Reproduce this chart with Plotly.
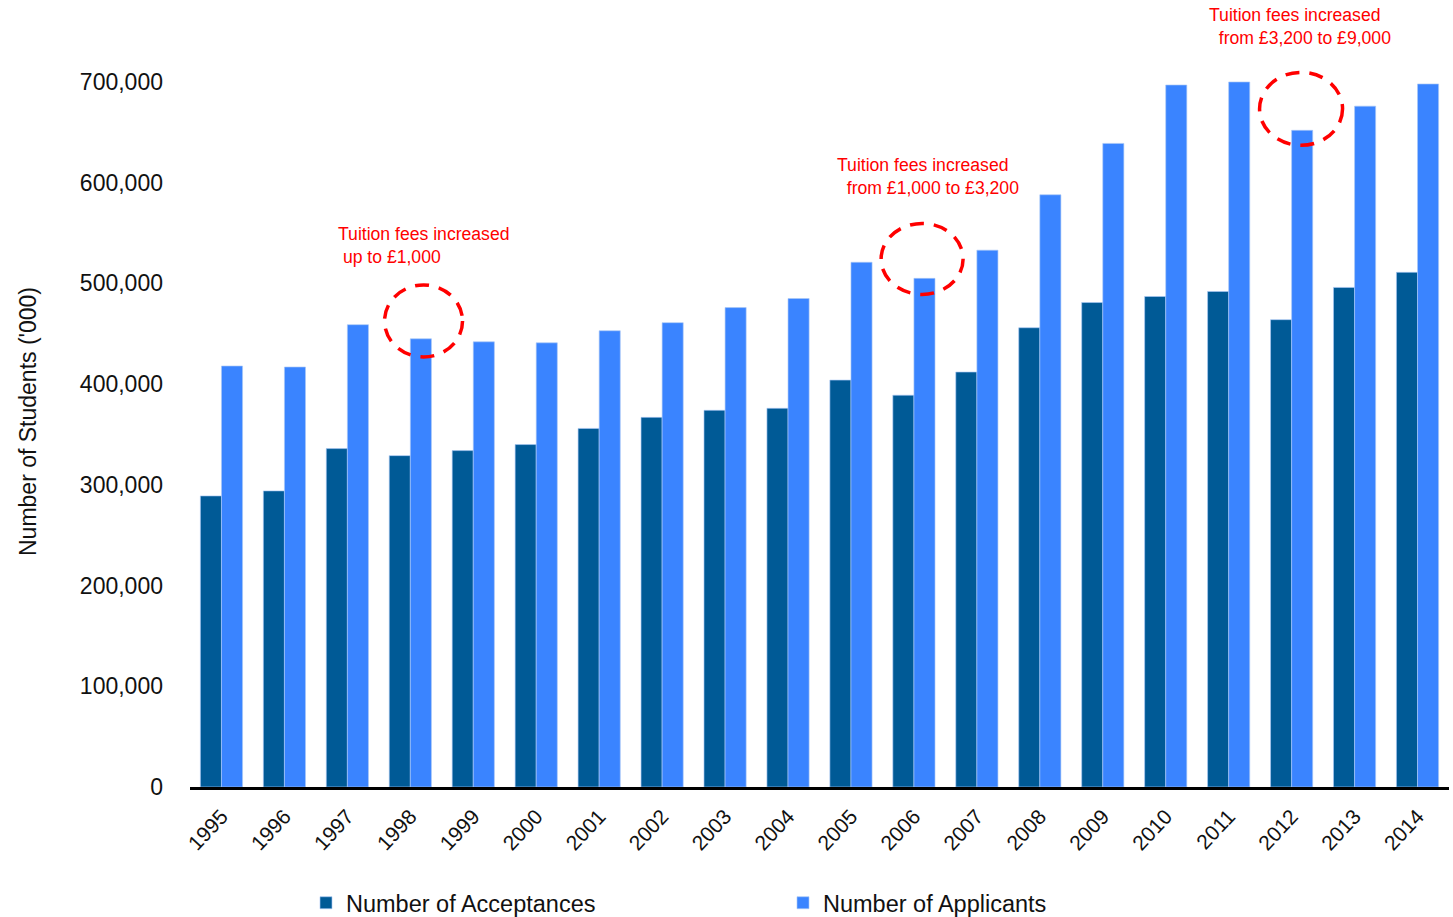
import plotly.graph_objects as go

years = [str(y) for y in range(1995, 2015)]
acceptances = [289000, 294000, 336000, 329000, 334000, 340000, 356000, 367000, 374000, 376000,
               404000, 389000, 412000, 456000, 481000, 487000, 492000, 464000, 496000, 511000]
applicants = [418000, 417000, 459000, 445000, 442000, 441000, 453000, 461000, 476000, 485000,
              521000, 505000, 533000, 588000, 639000, 697000, 700000, 652000, 676000, 698000]

notes = [
    ("1998", "Tuition fees increased<br>\u00a0up to £1,000"),
    ("2006", "Tuition fees increased<br>\u00a0\u00a0from £1,000 to £3,200"),
    ("2012", "Tuition fees increased<br>\u00a0\u00a0from £3,200 to £9,000"),
]
y_title = "Number of Students ('000)"

DARK = "#005A96"
LIGHT = "#3A84FF"
RED = "#FF0000"
ARIAL = "Liberation Sans, Arial, sans-serif"

fig = go.Figure()
fig.add_bar(x=years, y=acceptances, name="Number of Acceptances", marker_color=DARK,
            marker_line=dict(color="rgba(170,200,245,0.8)", width=0.8))
fig.add_bar(x=years, y=applicants, name="Number of Applicants", marker_color=LIGHT,
            marker_line=dict(color="rgba(170,200,245,0.8)", width=0.8))

# annotation placement (xshift px, y value)
note_pos = [(-74, 538000), (-79, 606500), (-85, 755000)]
for (cat, txt), (xs, yv) in zip(notes, note_pos):
    fig.add_annotation(x=years.index(cat), y=yv, xref="x", yref="y", text=txt, showarrow=False,
                       xanchor="left", yanchor="middle", align="left", xshift=xs,
                       font=dict(family=ARIAL, size=17.6, color=RED))

# y-axis title
fig.add_annotation(x=-0.1287, y=0.4662, xref="paper", yref="paper", text=y_title,
                   showarrow=False, textangle=-90, xanchor="center", yanchor="middle",
                   font=dict(family=ARIAL, size=23, color="#111111"))

# dashed circles: (category, offset in categories, y value, rx px, ry px)
circles = [("1998", 0.21, 462700, 39, 36), ("2006", 0.13, 524300, 41, 35.5), ("2012", 0.15, 673300, 41.5, 36.5)]
n = len(years)
for cat, off, cy, rx, ry in circles:
    px = (years.index(cat) + 0.5 + off) / n
    fig.add_shape(type="circle", xref="paper", yref="y", xsizemode="pixel", ysizemode="pixel",
                  xanchor=px, yanchor=cy, x0=-rx, x1=rx, y0=-ry, y1=ry,
                  line=dict(color=RED, width=3.5, dash="14px,10px"), layer="above")

fig.update_layout(
    width=1453, height=917,
    margin=dict(l=190, r=4, t=2, b=130),
    plot_bgcolor="white", paper_bgcolor="white",
    barmode="group", bargap=0.33, bargroupgap=0,
    showlegend=True,
    legend=dict(orientation="h", xref="container", yref="container",
                x=0.2106, y=0.0153, xanchor="left", yanchor="middle",
                font=dict(family=ARIAL, size=23.5, color="#111111"),
                entrywidth=432, entrywidthmode="pixels", itemclick=False),
    font=dict(family=ARIAL, color="#111111"),
)
fig.update_xaxes(type="category", range=[-0.5, n - 0.5], automargin=False,
                 showline=True, linecolor="#000000", linewidth=2.5,
                 ticks="", tickangle=-47, ticklabelstandoff=6,
                 tickfont=dict(family=ARIAL, size=21, color="#111111"),
                 showgrid=False)
fig.update_yaxes(range=[0, 779400], automargin=False,
                 tickvals=[0, 100000, 200000, 300000, 400000, 500000, 600000, 700000],
                 tickformat=",d", showgrid=False, zeroline=False, showline=False, ticks="",
                 ticklabelstandoff=26, tickfont=dict(family=ARIAL, size=23, color="#111111"))

fig.write_html("out.html")
